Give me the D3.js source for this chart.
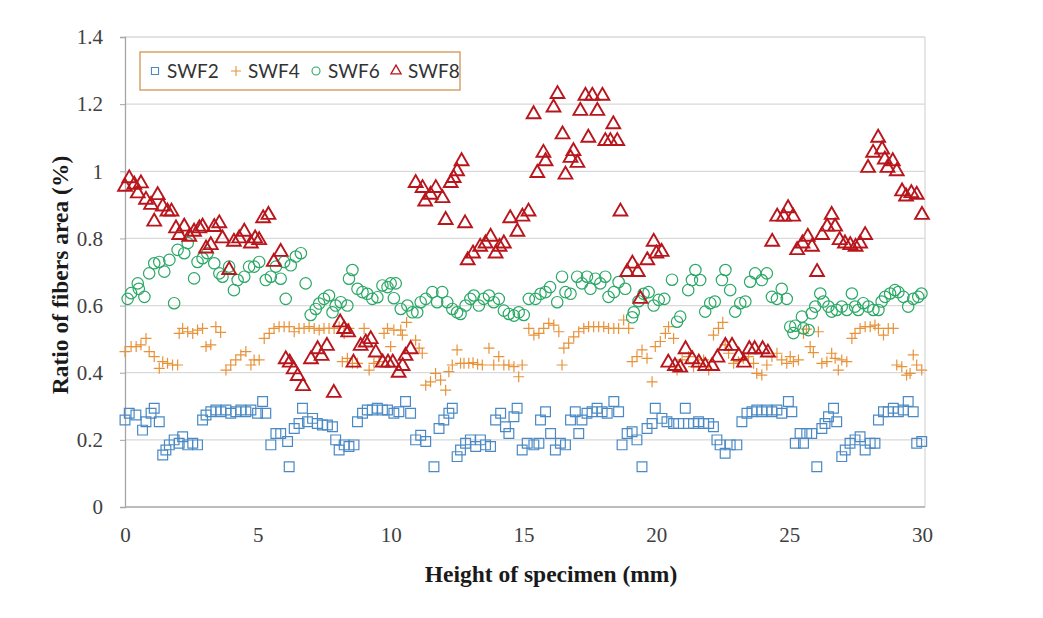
<!DOCTYPE html>
<html><head><meta charset="utf-8">
<script src="https://cdn.jsdelivr.net/npm/d3@7/dist/d3.min.js"></script>
<style>body{margin:0;background:#fff}</style>
</head><body>
<svg id="chart" width="1043" height="618"></svg>
<script>
const seriesNames = ["SWF2","SWF4","SWF6","SWF8"];
const xTicks = [0,5,10,15,20,25,30];
const yTicks = [0,0.2,0.4,0.6,0.8,1,1.2,1.4];
const yTickLabels = ["0","0.2","0.4","0.6","0.8","1","1.2","1.4"];

const swf2 = [[0.0,0.259],[0.16,0.279],[0.41,0.274],[0.66,0.229],[0.79,0.254],[0.98,0.279],[1.1,0.294],[1.29,0.254],[1.42,0.155],[1.54,0.17],[1.67,0.185],[1.85,0.2],[2.04,0.19],[2.17,0.209],[2.36,0.185],[2.55,0.19],[2.73,0.185],[2.92,0.259],[3.05,0.274],[3.23,0.284],[3.42,0.289],[3.61,0.284],[3.8,0.289],[3.98,0.279],[4.17,0.284],[4.36,0.289],[4.55,0.284],[4.74,0.289],[4.99,0.279],[5.18,0.314],[5.3,0.279],[5.49,0.185],[5.68,0.219],[5.86,0.219],[6.12,0.195],[6.18,0.12],[6.37,0.234],[6.55,0.249],[6.68,0.294],[6.87,0.254],[7.06,0.264],[7.24,0.249],[7.43,0.244],[7.62,0.244],[7.81,0.239],[7.93,0.2],[8.06,0.17],[8.25,0.185],[8.43,0.18],[8.62,0.185],[8.75,0.254],[8.94,0.279],[9.12,0.289],[9.31,0.289],[9.5,0.294],[9.69,0.289],[9.88,0.289],[10.12,0.279],[10.31,0.284],[10.56,0.314],[10.75,0.279],[10.94,0.2],[11.13,0.214],[11.32,0.195],[11.63,0.12],[11.82,0.234],[12.0,0.259],[12.19,0.279],[12.32,0.294],[12.5,0.15],[12.63,0.17],[12.82,0.19],[13.0,0.2],[13.2,0.18],[13.38,0.2],[13.57,0.185],[13.76,0.18],[13.95,0.259],[14.14,0.279],[14.32,0.239],[14.45,0.219],[14.64,0.269],[14.76,0.294],[14.95,0.17],[15.14,0.19],[15.39,0.185],[15.58,0.19],[15.64,0.259],[15.83,0.284],[16.02,0.219],[16.2,0.17],[16.39,0.19],[16.58,0.185],[16.77,0.259],[16.95,0.284],[17.08,0.219],[17.2,0.259],[17.39,0.279],[17.58,0.284],[17.77,0.294],[17.96,0.284],[18.15,0.279],[18.4,0.314],[18.58,0.284],[18.71,0.185],[18.9,0.219],[19.09,0.224],[19.27,0.2],[19.46,0.12],[19.65,0.234],[19.84,0.249],[19.96,0.294],[20.21,0.264],[20.4,0.254],[20.65,0.249],[20.84,0.249],[21.09,0.294],[21.21,0.249],[21.4,0.249],[21.59,0.254],[21.78,0.249],[21.97,0.249],[22.15,0.239],[22.28,0.2],[22.4,0.185],[22.59,0.16],[22.78,0.185],[23.03,0.185],[23.22,0.254],[23.41,0.279],[23.6,0.284],[23.78,0.289],[23.97,0.284],[24.16,0.289],[24.35,0.284],[24.54,0.289],[24.72,0.279],[24.97,0.314],[25.1,0.284],[25.23,0.19],[25.41,0.219],[25.54,0.19],[25.66,0.219],[25.85,0.219],[26.04,0.12],[26.23,0.234],[26.35,0.249],[26.48,0.269],[26.67,0.294],[26.79,0.254],[26.98,0.15],[27.11,0.17],[27.29,0.19],[27.48,0.2],[27.67,0.209],[27.86,0.17],[28.05,0.19],[28.23,0.19],[28.36,0.259],[28.55,0.284],[28.73,0.284],[28.92,0.294],[29.11,0.284],[29.3,0.289],[29.48,0.314],[29.67,0.284],[29.8,0.19],[29.99,0.195]];

const swf4 = [[0.0,0.463],[0.23,0.478],[0.42,0.478],[0.6,0.483],[0.79,0.502],[0.91,0.463],[1.1,0.448],[1.29,0.413],[1.42,0.433],[1.6,0.428],[1.79,0.423],[1.98,0.423],[2.04,0.517],[2.17,0.532],[2.36,0.522],[2.55,0.517],[2.73,0.527],[2.92,0.532],[3.05,0.478],[3.23,0.483],[3.42,0.537],[3.6,0.52],[3.8,0.408],[3.98,0.423],[4.17,0.438],[4.36,0.453],[4.55,0.463],[4.74,0.423],[4.86,0.438],[5.05,0.438],[5.24,0.502],[5.43,0.517],[5.61,0.532],[5.8,0.537],[5.99,0.537],[6.18,0.537],[6.37,0.522],[6.55,0.532],[6.74,0.532],[6.93,0.537],[7.12,0.532],[7.31,0.527],[7.49,0.532],[7.68,0.532],[7.87,0.532],[8.06,0.537],[8.18,0.433],[8.25,0.517],[8.37,0.443],[8.43,0.532],[8.56,0.428],[8.75,0.428],[9.0,0.532],[9.19,0.408],[9.37,0.428],[9.56,0.433],[9.75,0.517],[9.88,0.532],[10.0,0.478],[10.12,0.527],[10.38,0.527],[10.44,0.512],[10.6,0.55],[10.94,0.497],[11.07,0.473],[11.19,0.458],[11.32,0.363],[11.5,0.373],[11.69,0.398],[11.88,0.378],[12.07,0.348],[12.19,0.403],[12.32,0.423],[12.5,0.468],[12.63,0.428],[12.76,0.428],[12.94,0.428],[13.1,0.43],[13.27,0.425],[13.45,0.423],[13.7,0.473],[13.88,0.423],[14.07,0.448],[14.26,0.423],[14.45,0.423],[14.64,0.418],[14.82,0.388],[14.95,0.423],[15.2,0.532],[15.39,0.512],[15.58,0.517],[15.76,0.532],[15.95,0.547],[16.14,0.542],[16.33,0.522],[16.45,0.423],[16.52,0.473],[16.7,0.488],[16.89,0.507],[17.08,0.522],[17.27,0.532],[17.45,0.537],[17.64,0.537],[17.83,0.537],[18.02,0.537],[18.2,0.532],[18.4,0.532],[18.58,0.532],[18.77,0.557],[18.96,0.532],[19.09,0.433],[19.27,0.448],[19.46,0.468],[19.65,0.443],[19.84,0.373],[19.96,0.478],[20.15,0.493],[20.34,0.517],[20.46,0.537],[20.65,0.502],[20.78,0.408],[20.97,0.438],[21.21,0.448],[21.4,0.418],[21.59,0.428],[21.78,0.438],[21.97,0.408],[22.15,0.512],[22.34,0.532],[22.5,0.55],[22.59,0.483],[22.72,0.458],[22.91,0.428],[23.09,0.433],[23.28,0.443],[23.47,0.448],[23.66,0.428],[23.78,0.398],[23.97,0.393],[24.16,0.423],[24.35,0.448],[24.54,0.458],[24.72,0.438],[24.91,0.428],[25.04,0.448],[25.16,0.433],[25.35,0.438],[25.54,0.517],[25.65,0.53],[25.79,0.478],[25.91,0.46],[26.1,0.522],[26.23,0.428],[26.42,0.433],[26.6,0.458],[26.73,0.443],[26.85,0.408],[26.98,0.438],[27.17,0.433],[27.36,0.502],[27.48,0.517],[27.67,0.532],[27.86,0.537],[28.05,0.537],[28.23,0.542],[28.36,0.532],[28.55,0.512],[28.73,0.532],[28.92,0.532],[29.05,0.423],[29.24,0.418],[29.42,0.393],[29.55,0.398],[29.67,0.453],[29.8,0.423],[29.99,0.408]];

const swf6 = [[0.1,0.62],[0.23,0.637],[0.48,0.666],[0.52,0.65],[0.73,0.626],[0.91,0.696],[1.1,0.726],[1.29,0.73],[1.48,0.701],[1.67,0.736],[1.85,0.607],[1.98,0.766],[2.23,0.756],[2.36,0.786],[2.6,0.681],[2.73,0.73],[2.92,0.741],[3.1,0.756],[3.36,0.726],[3.55,0.696],[3.67,0.686],[3.92,0.716],[4.1,0.646],[4.24,0.676],[4.49,0.686],[4.67,0.716],[4.86,0.716],[5.05,0.73],[5.3,0.676],[5.49,0.686],[5.68,0.716],[5.86,0.68],[5.99,0.73],[6.05,0.62],[6.24,0.72],[6.43,0.746],[6.62,0.756],[6.8,0.666],[6.99,0.572],[7.18,0.59],[7.31,0.606],[7.49,0.62],[7.68,0.63],[7.81,0.58],[7.93,0.6],[8.12,0.61],[8.37,0.6],[8.43,0.68],[8.56,0.706],[8.75,0.65],[8.94,0.64],[9.12,0.635],[9.31,0.62],[9.5,0.625],[9.69,0.66],[9.88,0.655],[10.0,0.666],[10.12,0.622],[10.19,0.666],[10.38,0.59],[10.63,0.6],[10.82,0.58],[11.0,0.58],[11.13,0.61],[11.32,0.62],[11.57,0.64],[11.75,0.61],[11.94,0.64],[12.13,0.61],[12.32,0.59],[12.5,0.58],[12.63,0.575],[12.82,0.6],[13.0,0.62],[13.13,0.63],[13.32,0.6],[13.5,0.62],[13.7,0.63],[13.88,0.61],[14.07,0.62],[14.26,0.585],[14.45,0.575],[14.64,0.57],[14.82,0.58],[15.01,0.572],[15.2,0.62],[15.45,0.62],[15.64,0.635],[15.83,0.64],[16.0,0.655],[16.27,0.61],[16.45,0.686],[16.58,0.64],[16.77,0.635],[17.02,0.686],[17.2,0.666],[17.39,0.686],[17.52,0.65],[17.71,0.68],[17.89,0.666],[18.08,0.686],[18.2,0.626],[18.4,0.64],[18.58,0.67],[18.83,0.65],[19.09,0.565],[19.15,0.58],[19.33,0.613],[19.52,0.635],[19.71,0.64],[19.9,0.6],[20.09,0.617],[20.3,0.62],[20.59,0.677],[20.78,0.552],[20.9,0.567],[21.2,0.646],[21.34,0.676],[21.47,0.706],[21.65,0.676],[21.84,0.582],[22.03,0.607],[22.2,0.612],[22.47,0.676],[22.6,0.706],[22.78,0.646],[22.97,0.582],[23.16,0.607],[23.35,0.612],[23.53,0.671],[23.72,0.696],[23.97,0.676],[24.16,0.696],[24.35,0.626],[24.54,0.62],[24.72,0.65],[24.91,0.62],[25.04,0.537],[25.16,0.518],[25.23,0.54],[25.48,0.567],[25.54,0.532],[25.73,0.527],[25.85,0.577],[25.98,0.597],[26.17,0.636],[26.29,0.612],[26.48,0.597],[26.6,0.582],[26.79,0.587],[26.98,0.597],[27.17,0.587],[27.36,0.636],[27.48,0.597],[27.6,0.587],[27.79,0.607],[27.98,0.597],[28.17,0.587],[28.36,0.587],[28.48,0.612],[28.61,0.626],[28.8,0.636],[28.98,0.646],[29.11,0.64],[29.3,0.626],[29.48,0.597],[29.67,0.62],[29.86,0.626],[29.98,0.636]];

const swf8 = [[0.0,0.954],[0.16,0.979],[0.35,0.96],[0.48,0.934],[0.6,0.964],[0.79,0.915],[0.98,0.90],[1.1,0.85],[1.23,0.929],[1.42,0.895],[1.6,0.88],[1.75,0.88],[1.92,0.83],[2.04,0.81],[2.23,0.835],[2.42,0.805],[2.6,0.82],[2.8,0.83],[2.92,0.835],[3.05,0.77],[3.23,0.78],[3.36,0.834],[3.55,0.845],[3.67,0.80],[3.92,0.706],[4.1,0.79],[4.3,0.80],[4.49,0.82],[4.74,0.785],[4.9,0.80],[5.05,0.795],[5.2,0.86],[5.4,0.87],[5.6,0.73],[5.86,0.76],[6.05,0.44],[6.2,0.43],[6.35,0.41],[6.5,0.39],[6.7,0.36],[7.0,0.44],[7.25,0.47],[7.4,0.45],[7.6,0.48],[7.86,0.34],[8.1,0.55],[8.25,0.53],[8.4,0.52],[8.6,0.43],[8.87,0.48],[9.06,0.49],[9.25,0.50],[9.44,0.46],[9.7,0.43],[9.9,0.43],[10.08,0.43],[10.3,0.40],[10.45,0.42],[10.56,0.45],[10.75,0.47],[10.94,0.965],[11.2,0.95],[11.3,0.91],[11.5,0.93],[11.7,0.95],[11.95,0.92],[12.07,0.855],[12.26,0.965],[12.37,0.98],[12.5,1.0],[12.67,1.03],[12.8,0.845],[12.9,0.735],[13.1,0.755],[13.37,0.775],[13.57,0.785],[13.76,0.805],[13.95,0.755],[14.1,0.775],[14.26,0.785],[14.5,0.86],[14.77,0.82],[14.96,0.865],[15.19,0.88],[15.38,1.17],[15.52,0.995],[15.75,1.055],[15.83,1.03],[16.13,1.19],[16.28,1.23],[16.47,1.11],[16.58,0.99],[16.77,1.04],[16.88,1.06],[17.03,1.025],[17.14,1.18],[17.33,1.225],[17.44,1.10],[17.59,1.225],[17.78,1.18],[17.97,1.225],[18.08,1.09],[18.27,1.09],[18.38,1.14],[18.53,1.09],[18.65,0.88],[18.9,0.70],[19.1,0.725],[19.3,0.70],[19.4,0.62],[19.66,0.735],[19.9,0.79],[20.0,0.755],[20.2,0.76],[20.45,0.43],[20.7,0.42],[20.9,0.415],[21.1,0.47],[21.35,0.44],[21.6,0.43],[21.84,0.42],[22.1,0.42],[22.3,0.445],[22.6,0.48],[22.85,0.48],[23.1,0.45],[23.3,0.43],[23.5,0.47],[23.7,0.47],[24.0,0.47],[24.2,0.46],[24.36,0.79],[24.55,0.865],[24.8,0.865],[24.96,0.89],[25.15,0.865],[25.3,0.765],[25.5,0.785],[25.7,0.805],[25.86,0.775],[26.05,0.70],[26.24,0.81],[26.43,0.835],[26.6,0.87],[26.73,0.835],[26.9,0.795],[27.1,0.785],[27.3,0.78],[27.5,0.775],[27.67,0.785],[27.86,0.81],[27.97,1.01],[28.16,1.055],[28.35,1.10],[28.5,1.065],[28.6,1.035],[28.7,1.01],[28.9,1.03],[29.05,1.00],[29.25,0.94],[29.4,0.925],[29.6,0.935],[29.8,0.93],[30.0,0.87]];

const svg = d3.select("#chart");
const L = 125, R = 922, T = 37, B = 507;
const x = d3.scaleLinear().domain([0,30]).range([L,R]);
const y = d3.scaleLinear().domain([0,1.4]).range([B,T]);

// gridlines
svg.append("g").selectAll("line").data(yTicks.slice(1)).join("line")
  .attr("x1",L).attr("x2",R+3).attr("y1",d=>y(d)).attr("y2",d=>y(d))
  .attr("stroke","#d9d9d9").attr("stroke-width",1.3);
// right border
svg.append("line").attr("x1",R+3).attr("x2",R+3).attr("y1",T).attr("y2",B)
  .attr("stroke","#d9d9d9").attr("stroke-width",1.3);

const tickFont = "'Liberation Serif', 'Times New Roman', serif";
// axes
const yAxis = d3.axisLeft(y).tickValues(yTicks).tickFormat((d,i)=>yTickLabels[i]).tickSize(5).tickPadding(17);
const gy = svg.append("g").attr("transform",`translate(${L},0)`).call(yAxis);
gy.select(".domain").attr("stroke","#a6a6a6").attr("stroke-width",1.3);
gy.selectAll(".tick line").attr("stroke","#a6a6a6");
gy.selectAll("text").attr("font-family",tickFont).attr("font-size",21).attr("fill","#404040");

const xAxis = d3.axisBottom(x).tickValues(xTicks).tickSize(0).tickPadding(20);
const gx = svg.append("g").attr("transform",`translate(0,${B})`).call(xAxis);
gx.select(".domain").attr("stroke","#a6a6a6").attr("stroke-width",1.3).attr("d",`M${L},0H${R+3}`);
gx.selectAll("text").attr("font-family",tickFont).attr("font-size",21).attr("fill","#404040");

// axis titles
svg.append("text").attr("x",551).attr("y",582).attr("text-anchor","middle")
  .attr("font-family",tickFont).attr("font-weight","bold").attr("font-size",23.5).attr("fill","#1a1a1a")
  .text("Height of specimen (mm)");
svg.append("text").attr("transform","translate(68,275) rotate(-90)").attr("text-anchor","middle")
  .attr("font-family",tickFont).attr("font-weight","bold").attr("font-size",23.5).attr("fill","#1a1a1a")
  .text("Ratio of fibers area (%)");

// markers
const colors = {SWF2:"#4a89c4", SWF4:"#e8923a", SWF6:"#2aa866", SWF8:"#b8161c"};
const sq = d3.symbol().type(d3.symbolSquare).size(95);
const tri = d3.symbol().type(d3.symbolTriangle).size(82);
function crossPath(s){ return `M${-s},0H${s}M0,${-s}V${s}`; }

const plot = svg.append("g");
plot.append("g").selectAll("path").data(swf2).join("path")
  .attr("transform",d=>`translate(${x(d[0])},${y(d[1])})`).attr("d",sq)
  .attr("fill","none").attr("stroke",colors.SWF2).attr("stroke-width",1.2);
plot.append("g").selectAll("path").data(swf4).join("path")
  .attr("transform",d=>`translate(${x(d[0])},${y(d[1])})`).attr("d",crossPath(5.5))
  .attr("fill","none").attr("stroke",colors.SWF4).attr("stroke-width",1.2);
plot.append("g").selectAll("circle").data(swf6).join("circle")
  .attr("cx",d=>x(d[0])).attr("cy",d=>y(d[1])).attr("r",5.7)
  .attr("fill","none").attr("stroke",colors.SWF6).attr("stroke-width",1.2);
plot.append("g").selectAll("path").data(swf8).join("path")
  .attr("transform",d=>`translate(${x(d[0])},${y(d[1])})`).attr("d",tri)
  .attr("fill","none").attr("stroke",colors.SWF8).attr("stroke-width",1.9);

// legend
const lg = svg.append("g");
lg.append("rect").attr("x",140).attr("y",52).attr("width",320).attr("height",38)
  .attr("fill","#fff").attr("stroke","#d9a36b").attr("stroke-width",1.5);
const legX = [155, 236, 316, 396];
seriesNames.forEach((n,i)=>{
  const g = lg.append("g").attr("transform",`translate(${legX[i]},71)`);
  if(i===0) g.append("path").attr("d",d3.symbol().type(d3.symbolSquare).size(50)).attr("fill","none").attr("stroke",colors[n]).attr("stroke-width",1.1);
  if(i===1) g.append("path").attr("d",crossPath(5)).attr("fill","none").attr("stroke",colors[n]).attr("stroke-width",1.1);
  if(i===2) g.append("circle").attr("r",4).attr("fill","none").attr("stroke",colors[n]).attr("stroke-width",1.1);
  if(i===3) g.append("path").attr("d",d3.symbol().type(d3.symbolTriangle).size(45)).attr("fill","none").attr("stroke",colors[n]).attr("stroke-width",1.3);
  g.append("text").attr("x",12).attr("y",7).attr("font-family","Lato, 'Liberation Sans', sans-serif").attr("font-size",19).attr("fill","#333").text(n);
});
</script>
</body></html>
